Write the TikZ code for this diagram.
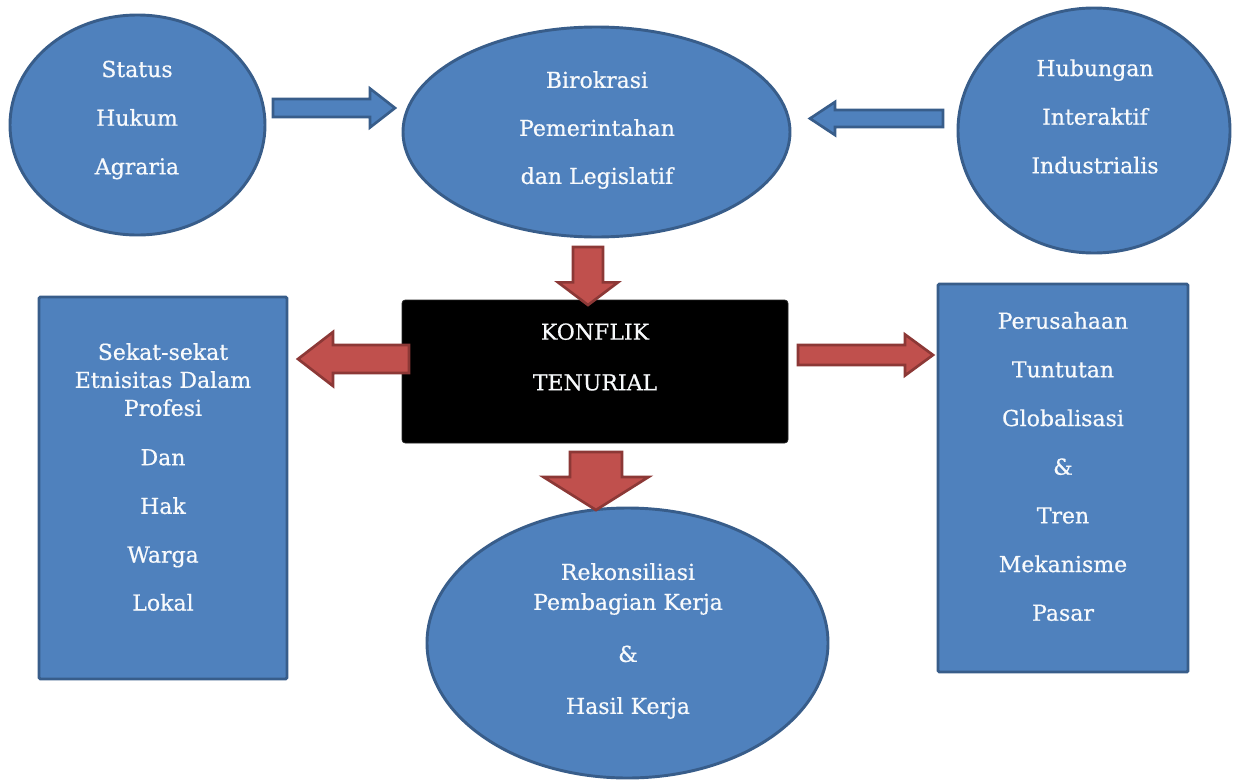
\documentclass[tikz,border=0pt]{standalone}
\usepackage{fontspec}
\setmainfont[FakeBold=0.6]{DejaVu Serif}
\usetikzlibrary{shapes.geometric,calc}
\definecolor{ofblue}{HTML}{4F81BD}
\definecolor{ofblueline}{HTML}{385D8A}
\definecolor{ofred}{HTML}{C0504D}
\definecolor{ofredline}{HTML}{8C3836}
\tikzset{
  blob/.style={ellipse,fill=ofblue,draw=ofblueline,line width=2.2pt,inner sep=0pt},
  panel/.style={rectangle,fill=ofblue,draw=ofblueline,line width=2.2pt,inner sep=0pt,rounded corners=1pt},
  core/.style={rectangle,fill=black,draw=black!85,line width=0.6pt,inner sep=0pt,rounded corners=2.5pt},
  lbl/.style={align=center,text=white!96!ofblue,inner sep=0pt,font=\fontsize{16.5}{21}\selectfont},
  bluearrow/.style={fill=ofblue,draw=ofblueline,line width=2pt,line join=miter},
  redarrow/.style={fill=ofred,draw=ofredline,line width=2pt,line join=miter},
}
% block arrow: style, from, to, shaft half width, head half width, head length
\newcommand{\fatarrow}[6]{%
  \coordinate (fa-base) at ($(#3)!#6!(#2)$);
  \draw[#1] ($(#2)!#4!90:(#3)$) -- ($(fa-base)!#4!90:(#3)$) -- ($(fa-base)!#5!90:(#3)$)
    -- (#3) -- ($(fa-base)!#5!-90:(#3)$) -- ($(fa-base)!#4!-90:(#3)$) -- ($(#2)!#4!-90:(#3)$) -- cycle;
}
\begin{document}
\begin{tikzpicture}[x=0.75pt,y=-0.75pt]
\useasboundingbox (0,0) rectangle (1233,782);

\node[blob,minimum width=191.25pt,minimum height=165pt] (status) at (137.5,125) {};
\node[blob,minimum width=290.25pt,minimum height=157.5pt] (biro) at (596.5,132) {};
\node[blob,minimum width=204pt,minimum height=183.75pt] (hub) at (1094,130.5) {};
\node[core,minimum width=289.5pt,minimum height=107.25pt] (konflik) at (595,371.5) {};
\node[panel,minimum width=186pt,minimum height=286.5pt] (sekat) at (163,488) {};
\node[panel,minimum width=187.5pt,minimum height=291pt] (pasar) at (1063,478) {};
\node[blob,minimum width=300.75pt,minimum height=202.5pt] (hasil) at (627.5,643) {};

\node[lbl] (status-t) at (137,120) {Status\\[15.5pt]Hukum\\[15.5pt]Agraria};
\node[lbl] (biro-t) at (597,130) {Birokrasi\\[15pt]Pemerintahan\\[15pt]dan Legislatif};
\node[lbl] (hub-t) at (1095,116.5) {Hubungan\\[15.5pt]Interaktif\\[15.5pt]Industrialis};
\node[lbl] (konflik-t) at (595,357) {KONFLIK\\[17pt]TENURIAL};
\node[lbl] (sekat-t) at (163,477) {Sekat-sekat\\Etnisitas Dalam\\Profesi\\[16pt]Dan\\[15.5pt]Hak\\[15.5pt]Warga\\[15pt]Lokal};
\node[lbl] (pasar-t) at (1063,466.5) {Perusahaan\\[15.5pt]Tuntutan\\[15.5pt]Globalisasi\\[15.5pt]\&\\[15.5pt]Tren\\[15.5pt]Mekanisme\\[15.5pt]Pasar};
\node[lbl] (hasil-t) at (628,641) {Rekonsiliasi\\[1.5pt]Pembagian Kerja\\[18pt]\&\\[18pt]Hasil Kerja};

\coordinate (status-out) at (273,108);
\coordinate (biro-in1) at (395,108);
\coordinate (hub-out) at (943,118.5);
\coordinate (biro-in2) at (810,118.5);
\coordinate (biro-out) at (588,247);
\coordinate (konflik-in) at (588,305);
\coordinate (konflik-out1) at (409,359);
\coordinate (sekat-in) at (298,359);
\coordinate (konflik-out2) at (798,355);
\coordinate (pasar-in) at (933,355);
\coordinate (konflik-out3) at (596,452);
\coordinate (hasil-in) at (596,510);

\fatarrow{bluearrow}{status-out}{biro-in1}{6.75pt}{14.6pt}{18.75pt}
\fatarrow{bluearrow}{hub-out}{biro-in2}{6.4pt}{12.4pt}{18.75pt}
\fatarrow{redarrow}{biro-out}{konflik-in}{11.25pt}{22.5pt}{17pt}
\fatarrow{redarrow}{konflik-out1}{sekat-in}{10.5pt}{20.25pt}{26.25pt}
\fatarrow{redarrow}{konflik-out2}{pasar-in}{7.5pt}{15.4pt}{21pt}
\fatarrow{redarrow}{konflik-out3}{hasil-in}{19.5pt}{39.4pt}{24.75pt}
\end{tikzpicture}
\end{document}
